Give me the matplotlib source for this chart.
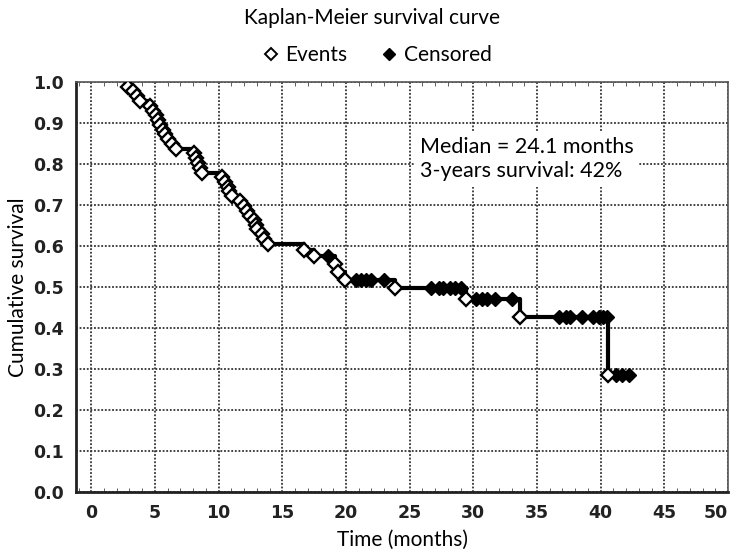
import numpy as np
import matplotlib
matplotlib.use("Agg")
import matplotlib.pyplot as plt
from matplotlib.lines import Line2D
from matplotlib.ticker import MultipleLocator

# event times (months) and survival after each event
event_months = [2.9, 3.3, 3.6, 3.8,
                4.6, 4.85, 5.05, 5.25, 5.4, 5.6, 5.8, 6.05, 6.35, 6.65,
                8.05, 8.2, 8.35, 8.5, 8.7,
                10.3, 10.5, 10.7, 10.85, 11.05, 11.7, 12.0, 12.25, 12.5,
                12.75, 12.9, 13.05, 13.4, 13.6, 13.85,
                16.7, 17.5, 19.1, 19.35, 19.9, 23.85, 29.4, 33.7, 40.6]
event_surv = [0.988, 0.977, 0.965, 0.953,
              0.942, 0.930, 0.919, 0.907, 0.895, 0.884, 0.872, 0.860, 0.849, 0.837,
              0.826, 0.814, 0.802, 0.791, 0.779,
              0.767, 0.756, 0.744, 0.733, 0.721, 0.709, 0.698, 0.686, 0.674,
              0.663, 0.651, 0.640, 0.628, 0.616, 0.605,
              0.590, 0.575, 0.556, 0.537, 0.517, 0.497, 0.471, 0.427, 0.285]
censor_months = [18.6, 20.8, 21.2, 21.6, 22.0, 23.0,
                 26.7, 27.3, 27.6, 28.2, 28.6, 29.0,
                 30.2, 30.7, 31.1, 31.7, 33.0,
                 36.7, 37.3, 37.6, 38.5, 39.4, 39.9, 40.2, 40.5,
                 41.2, 41.7, 42.2]

x_ticks = list(range(0, 51, 5))
y_ticks = [i / 10 for i in range(11)]

txt_font = "Lato"
tick_font = ["Liberation Sans Narrow", "DejaVu Sans"]

fig = plt.figure(figsize=(7.4, 5.52), dpi=100)
ax = fig.add_axes([0.1027, 0.1096, 0.8811, 0.7418])

# step curve carried out to the last censored patient
xs = event_months + [censor_months[-1]]
ys = event_surv + [event_surv[-1]]
ax.step(xs, ys, where="post", color="black", lw=3, zorder=3)

idx = np.searchsorted(event_months, censor_months, side="right") - 1
cens_y = np.array(event_surv)[idx]
ax.plot(censor_months, cens_y, "D", color="black", ms=7, zorder=4)
ax.plot(event_months, event_surv, "D", mfc="white", mec="black", ms=7.5,
        mew=1.7, zorder=5)

ax.set_xlim(-1.2, 49.8)
ax.set_ylim(0, 1.0)
ax.set_xticks(x_ticks)
ax.set_xticklabels([str(v) for v in x_ticks])
ax.set_yticks(y_ticks)
ax.set_yticklabels([f"{v:.1f}" for v in y_ticks])
ax.xaxis.set_minor_locator(MultipleLocator(1))
ax.tick_params(which="major", length=0, pad=9, labelsize=12.5)
ax.tick_params(which="minor", direction="in", length=3, top=True, right=False,
               left=False, color="#444444")
for lab in ax.get_xticklabels() + ax.get_yticklabels():
    lab.set_family(tick_font)
    lab.set_fontweight("bold")
    lab.set_color("#222222")
ax.get_xticklabels()[-1].set_horizontalalignment("right")

ax.grid(True, which="major", color="#333333", linestyle=(0, (1, 1)), lw=1.3)
ax.set_axisbelow(True)
for side in ["top", "right"]:
    ax.spines[side].set_linewidth(1.2)
    ax.spines[side].set_color("#555555")
for side in ["left", "bottom"]:
    ax.spines[side].set_linewidth(2)
    ax.spines[side].set_color("#222222")

ax.set_xlabel("Time (months)", family=txt_font, fontsize=15, va="center")
ax.xaxis.set_label_coords(0.5, -48.5 / (0.7418 * 552))
ax.set_ylabel("Cumulative survival", family=txt_font, fontsize=15, va="center")
ax.yaxis.set_label_coords(-58 / (0.8811 * 740), 0.5)

ax.text(25.8, 0.812, "Median = 24.1 months\n3-years survival: 42%",
        family=txt_font, fontsize=15.5, va="center", ha="left", linespacing=1.25,
        bbox=dict(facecolor="white", edgecolor="none", pad=4), zorder=6)

fig.text(372 / 740, 1 - 18 / 552, "Kaplan-Meier survival curve",
         family=txt_font, fontsize=15, ha="center", va="center")

handles = [Line2D([], [], ls="none", marker="D", mfc="white", mec="black",
                  mew=1.4, ms=6),
           Line2D([], [], ls="none", marker="D", color="black", ms=6)]
fig.legend(handles, ["Events", "Censored"], loc="center",
           bbox_to_anchor=(376 / 740, 1 - 55 / 552), ncol=2, frameon=False,
           prop={"family": txt_font, "size": 15}, handletextpad=0.2,
           columnspacing=1.5, handlelength=1.0)

fig.savefig("out.png", dpi=100)
